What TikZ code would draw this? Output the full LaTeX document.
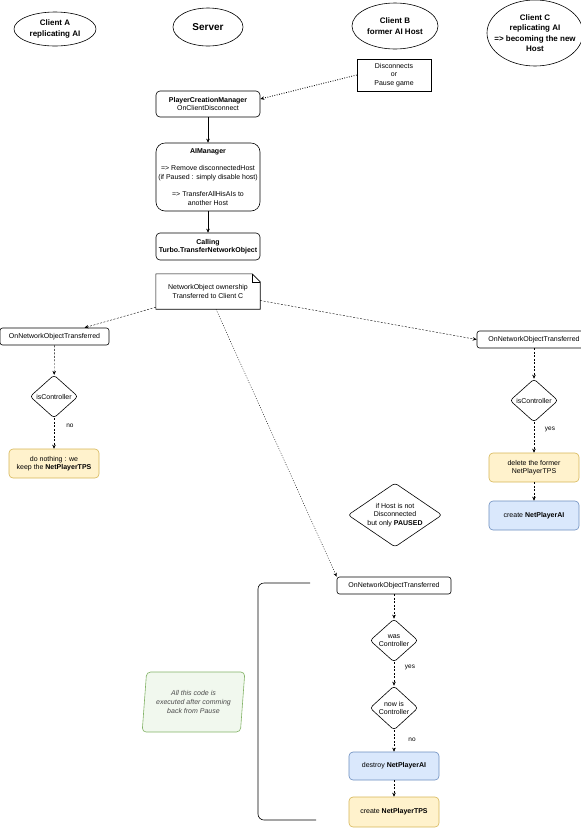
\documentclass[tikz,border=0pt]{standalone}
\usepackage{fontspec}
\setmainfont{Liberation Sans}
\usetikzlibrary{shapes.geometric,arrows.meta}
\definecolor{tpsfill}{HTML}{FFF2CC}
\definecolor{tpsline}{HTML}{D6B656}
\definecolor{aifill}{HTML}{DAE8FC}
\definecolor{ailine}{HTML}{6C8EBF}
\definecolor{pausefill}{HTML}{F1F8EE}
\definecolor{pauseline}{HTML}{82B366}
\tikzset{
    actor/.style={ellipse,draw,line width=0.6pt,inner sep=0pt,align=center,font=\fontsize{8}{10.5}\selectfont\bfseries},
    callbox/.style={rectangle,draw,line width=0.6pt,rounded corners=4pt,minimum width=104pt,inner xsep=2pt,align=center,font=\fontsize{7}{8.6}\selectfont},
    eventbox/.style={rectangle,draw,line width=0.6pt,rounded corners=2.5pt,minimum height=17pt,inner sep=0pt,font=\fontsize{7}{8.6}\selectfont},
    test/.style={diamond,draw,line width=0.6pt,rounded corners=3pt,inner sep=0pt,align=center,minimum width=48pt,minimum height=43pt,font=\fontsize{7}{8.6}\selectfont},
    tpsbox/.style={rectangle,draw=tpsline,fill=tpsfill,line width=0.6pt,rounded corners=4pt,minimum width=90pt,minimum height=29pt,inner sep=0pt,align=center,font=\fontsize{7}{8.6}\selectfont},
    aibox/.style={tpsbox,draw=ailine,fill=aifill},
    flow/.style={-{Stealth[length=4pt,width=3.5pt]},dash pattern=on 2pt off 1.5pt},
    answer/.style={font=\fontsize{6.5}{8}\selectfont},
}
\begin{document}
\begin{tikzpicture}[x=1pt,y=-1pt]
        \useasboundingbox (0,0) rectangle (581,831);
        \clip (0,0) rectangle (581,831);
        \node[actor,minimum width=82pt,minimum height=34pt] (clientA) at (55,29) {Client A\\replicating AI};
        \node[actor,minimum width=70pt,minimum height=38pt,font=\fontsize{10}{12}\selectfont\bfseries] (server) at (208,27) {Server};
        \node[actor,minimum width=86pt,minimum height=46pt] (clientB) at (395,26) {Client B\\former AI Host};
        \node[actor,minimum width=96pt,minimum height=66pt,inner xsep=-7pt] (clientC) at (535,33) {Client C\\replicating AI\\=> becoming the new\\Host};
        \node[draw,line width=0.6pt,minimum width=74pt,minimum height=32pt,align=center,font=\fontsize{7}{8.7}\selectfont] (disc) at (394,75) {Disconnects\\or\\Pause game};
        \node[callbox,minimum height=26pt] (pcm) at (208,104) {\textbf{PlayerCreationManager}\\OnClientDisconnect};
        \node[callbox,minimum height=68pt,rounded corners=9pt] (aim) at (208,177) {\textbf{AIManager}\\[8.6pt]=> Remove disconnectedHost\\(if Paused : simply disable host)\\[8.6pt]=> TransferAllHisAIs to\\another Host};
        \node[callbox,minimum height=27pt] (call) at (208,246.5) {\textbf{Calling}\\\textbf{Turbo.TransferNetworkObject}};
        \node[minimum width=104pt,minimum height=35pt,align=center,font=\fontsize{7}{9.5}\selectfont] (owner) at (208,291.5) {NetworkObject ownership\\Transferred to Client C};
        \draw[line width=0.6pt] (owner.south west) -- (owner.north west) -- ([xshift=-8pt]owner.north east) -- ([yshift=-8pt]owner.north east) -- (owner.south east) -- cycle;
        \draw[line width=0.6pt] ([xshift=-8pt]owner.north east) -- ++(0,8) -- ([yshift=-8pt]owner.north east);
        \node[eventbox,minimum width=109pt] (onA) at (54.5,336.5) {OnNetworkObjectTransferred};
        \node[eventbox,minimum width=114pt] (onC) at (534,339.5) {OnNetworkObjectTransferred};
        \node[eventbox,minimum width=114pt] (onB) at (394,585.5) {OnNetworkObjectTransferred};
        \node[test] (ctrlA) at (54,396.5) {isController};
        \node[test] (ctrlC) at (534,400.5) {isController};
        \node[test,aspect=1.5,minimum width=94pt,minimum height=64pt] (paused) at (395,515) {if Host is not\\Disconnected\\but only \textbf{PAUSED}};
        \node[test] (wasCtrl) at (394,640.5) {was\\Controller};
        \node[test,minimum height=44pt] (nowCtrl) at (394,708) {now is\\Controller};
        \node[tpsbox] (keepTPS) at (54,463.5) {do nothing : we\\keep the \textbf{NetPlayerTPS}};
        \node[tpsbox] (dropTPS) at (534,467.5) {delete the former\\NetPlayerTPS};
        \node[aibox] (makeAI) at (534,515.5) {create \textbf{NetPlayerAI}};
        \node[aibox,minimum height=28pt] (dropAI) at (394,766) {destroy \textbf{NetPlayerAI}};
        \node[tpsbox,minimum height=30pt] (makeTPS) at (394,812) {create \textbf{NetPlayerTPS}};
        \node[trapezium,trapezium left angle=81,trapezium right angle=99,trapezium stretches=true,minimum width=103pt,minimum height=60pt,inner sep=0pt,draw=pauseline,fill=pausefill,line width=0.6pt,rounded corners=4pt,align=center,text=black!70,font=\fontsize{7}{8.6}\selectfont\itshape] (pausenote) at (193.5,702) {All this code is\\executed after comming\\back from Pause};
        \draw[line width=0.6pt,rounded corners=6pt] (310,583) -- (258,583) -- (258,820) -- (316,820);
        \node[answer] (noA) at (70,426) {no};
        \node[answer] (yesC) at (550,429) {yes};
        \node[answer] (yesB) at (410,667) {yes};
        \node[answer] (noB) at (412,740) {no};
        \draw[flow,dash pattern=on 0.8pt off 1.6pt,line width=0.9pt] (disc.west) -- ([yshift=5pt]pcm.east);
        \draw[-{Stealth[length=4pt,width=3.5pt]}] (pcm) -- (aim);
        \draw[-{Stealth[length=4pt,width=3.5pt]}] (aim) -- (call);
        \draw[flow] ([yshift=2pt]owner.south west) -- ([xshift=30pt]onA.north);
        \draw[flow] ([yshift=-9pt]owner.east) -- (onC.west);
        \draw[flow,dash pattern=on 1pt off 1.5pt] ([xshift=8pt]owner.south) -- (onB.north west);
        \draw[flow] (onA) -- (ctrlA);
        \draw[flow] (ctrlA) -- (keepTPS);
        \draw[flow] (onC) -- (ctrlC);
        \draw[flow] (ctrlC) -- (dropTPS);
        \draw[flow] (dropTPS) -- (makeAI);
        \draw[flow] (onB) -- (wasCtrl);
        \draw[flow] (wasCtrl) -- (nowCtrl);
        \draw[flow] (nowCtrl) -- (dropAI);
        \draw[flow] (dropAI) -- (makeTPS);
    \end{tikzpicture}
\end{document}
